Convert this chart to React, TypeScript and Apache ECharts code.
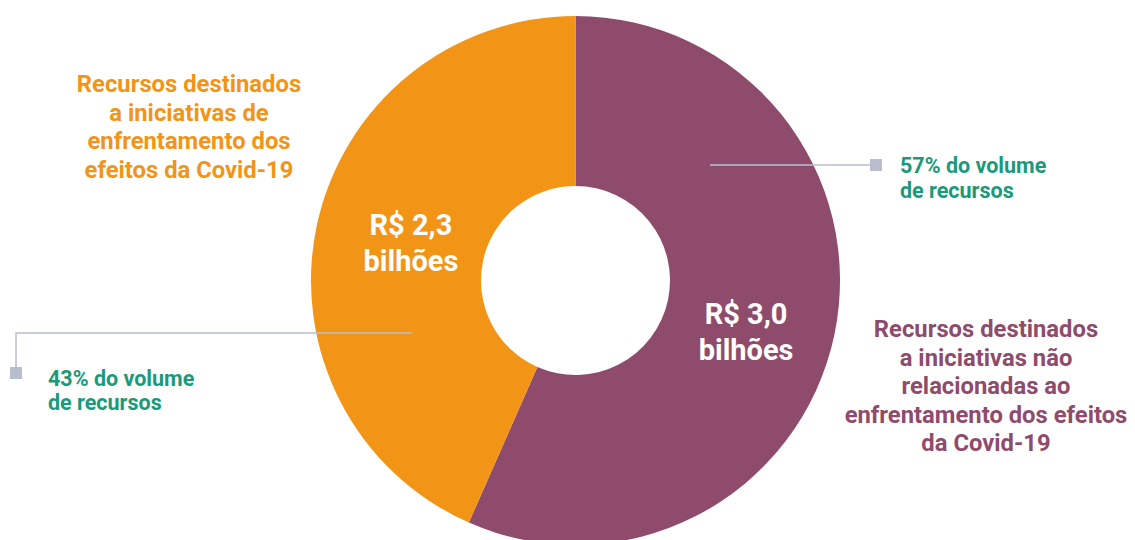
import React, { useEffect, useRef } from "react";
import * as echarts from "echarts";

const categories = [
  "Recursos destinados\na iniciativas não\nrelacionadas ao\nenfrentamento dos efeitos\nda Covid-19",
  "Recursos destinados\na iniciativas de\nenfrentamento dos\nefeitos da Covid-19",
];
const values = [3.0, 2.3];
const valueLabels = ["R$ 3,0\nbilhões", "R$ 2,3\nbilhões"];
const colors = ["#8F4B6C", "#F29416"];
const green = "#1A9A7A";
const lineColor = "#B9BECF";
const FONT = "Roboto, 'Noto Sans', sans-serif";
const labelOffsets = [[-8, 14], [14, 0]];

export default function App() {
  const ref = useRef<HTMLDivElement>(null);
  useEffect(() => {
    if (!ref.current) return;
    const chart = echarts.init(ref.current, null, { renderer: "svg" });
    const total = values.reduce((a, b) => a + b, 0);
    const pct = values.map((v) => Math.round((v / total) * 100));
    chart.setOption({
      animation: false,
      backgroundColor: "#ffffff",
      series: [
        {
          type: "pie",
          center: [575.5, 280.5],
          radius: [94.5, 264.5],
          startAngle: 90,
          clockwise: true,
          silent: true,
          z: 1,
          label: {
            show: true,
            position: "inside",
            color: "#ffffff",
            fontFamily: FONT,
            fontWeight: "bold",
            fontSize: 29,
            lineHeight: 36,
            align: "center",
            formatter: (p: any) => valueLabels[p.dataIndex],
          },
          labelLine: { show: false },
          data: values.map((v, i) => ({
            name: categories[i],
            value: v,
            itemStyle: { color: colors[i] },
            label: { offset: labelOffsets[i] },
          })),
        },
      ],
      graphic: {
        elements: [
          {
            type: "text",
            x: 189,
            y: 127,
            z: 100,
            style: {
              text: categories[1],
              fill: colors[1],
              font: `bold 23.8px ${FONT}`,
              lineHeight: 28.5,
              align: "center",
              verticalAlign: "middle",
            },
          },
          {
            type: "text",
            x: 986,
            y: 386,
            z: 100,
            style: {
              text: categories[0],
              fill: colors[0],
              font: `bold 23.8px ${FONT}`,
              lineHeight: 28.5,
              align: "center",
              verticalAlign: "middle",
            },
          },
          {
            type: "polyline",
            z: 100,
            shape: { points: [[710, 165], [872, 165]] },
            style: { stroke: lineColor, lineWidth: 1.5, fill: "none" },
          },
          {
            type: "rect",
            z: 100,
            shape: { x: 870, y: 159, width: 12, height: 12 },
            style: { fill: lineColor },
          },
          {
            type: "text",
            x: 900,
            y: 177.5,
            z: 100,
            style: {
              text: `${pct[0]}% do volume\nde recursos`,
              fill: green,
              font: `bold 21.5px ${FONT}`,
              lineHeight: 25,
              align: "left",
              verticalAlign: "middle",
            },
          },
          {
            type: "polyline",
            z: 100,
            shape: { points: [[412, 333], [16, 333], [16, 368]] },
            style: { stroke: lineColor, lineWidth: 1.5, fill: "none" },
          },
          {
            type: "rect",
            z: 100,
            shape: { x: 10, y: 367, width: 12, height: 12 },
            style: { fill: lineColor },
          },
          {
            type: "text",
            x: 48,
            y: 390,
            z: 100,
            style: {
              text: `${pct[1]}% do volume\nde recursos`,
              fill: green,
              font: `bold 21.5px ${FONT}`,
              lineHeight: 24,
              align: "left",
              verticalAlign: "middle",
            },
          },
        ],
      },
    });
    return () => chart.dispose();
  }, []);
  return (
    <div
      ref={ref}
      style={{ position: "fixed", left: 0, top: 0, width: 1135, height: 540 }}
    />
  );
}
